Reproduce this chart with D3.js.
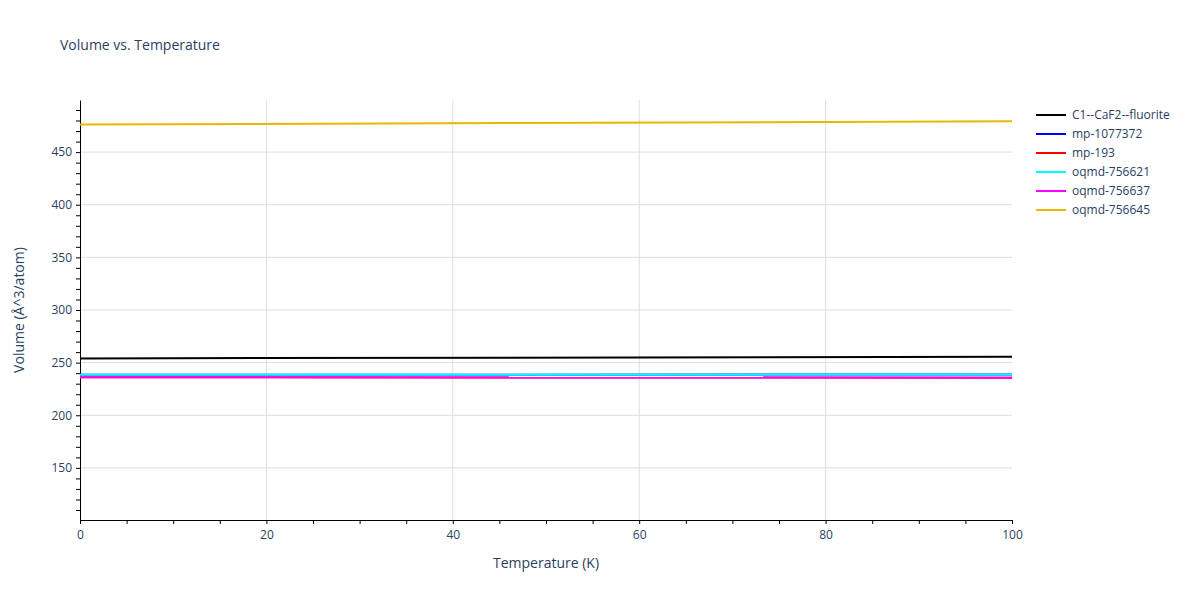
<!DOCTYPE html>
<html><head><meta charset="utf-8">
<script src="https://cdn.jsdelivr.net/npm/d3@7"></script>
<style>body{margin:0;background:#fff;font-family:"Open Sans",sans-serif}</style>
</head><body><div id="chart"></div>
<script>
// values, start and end of each line (K -> volume)
const temps = [0, 100];
const names = ["C1--CaF2--fluorite", "mp-1077372", "mp-193", "oqmd-756621", "oqmd-756637", "oqmd-756645"];
const colors = ["#000000", "#0000ff", "#ff0000", "#00ffff", "#ff00ff", "#e6b800"];
const vols = [
  [254.0, 255.6],
  [238.4, 238.7],
  [236.2, 235.6],
  [238.4, 238.7],
  [236.2, 235.6],
  [476.2, 479.2]
];

const W = 1200, H = 600;
const m = {l: 80, r: 188, t: 100, b: 80};
const svg = d3.select("#chart").append("svg").attr("width", W).attr("height", H);

const x = d3.scaleLinear().domain([0, 100]).range([m.l, W - m.r]);
const y = d3.scaleLinear().domain([100.5, 499.5]).range([H - m.b, m.t]);
const txt = "#2a3f5f";

// grid
svg.append("g").selectAll("line").data([20, 40, 60, 80]).join("line")
  .attr("x1", d => x(d)).attr("x2", d => x(d)).attr("y1", m.t).attr("y2", H - m.b)
  .attr("stroke", "#ddd");
svg.append("g").selectAll("line").data([150, 200, 250, 300, 350, 400, 450]).join("line")
  .attr("x1", m.l).attr("x2", W - m.r).attr("y1", d => y(d)).attr("y2", d => y(d))
  .attr("stroke", "#ddd");

// axes
svg.append("g").attr("transform", `translate(0,${H - m.b})`)
  .call(d3.axisBottom(x).tickValues([0, 20, 40, 60, 80, 100]).tickSize(0).tickPadding(10));
svg.append("g").attr("transform", `translate(0,${H - m.b})`)
  .call(d3.axisBottom(x).tickValues(d3.range(0, 101, 5)).tickSize(4).tickFormat(""))
  .select(".domain").remove();
svg.append("g").attr("transform", `translate(${m.l},0)`)
  .call(d3.axisLeft(y).tickValues([150, 200, 250, 300, 350, 400, 450]).tickSize(0).tickPadding(8));
svg.append("g").attr("transform", `translate(${m.l},0)`)
  .call(d3.axisLeft(y).tickValues(d3.range(110, 500, 10)).tickSize(4).tickFormat(""))
  .select(".domain").remove();
svg.selectAll(".domain").attr("stroke", "#000");
svg.selectAll(".tick line").attr("stroke", "#000");
svg.selectAll(".tick text").attr("fill", txt).style("font-size", "12px").style("font-family", "Open Sans");

// lines
const line = d3.line().x((d, i) => x(temps[i])).y(d => y(d));
svg.append("g").selectAll("path").data(vols).join("path")
  .attr("d", line).attr("fill", "none")
  .attr("stroke", (d, i) => colors[i]).attr("stroke-width", 2);

// titles
svg.append("text").attr("x", 60).attr("y", 50).text("Volume vs. Temperature")
  .attr("fill", txt).style("font-size", "14px");
svg.append("text").attr("x", (m.l + W - m.r) / 2).attr("y", 568).attr("text-anchor", "middle")
  .text("Temperature (K)").attr("fill", txt).style("font-size", "14px");
svg.append("text").attr("transform", `translate(24,${(m.t + H - m.b) / 2}) rotate(-90)`)
  .attr("text-anchor", "middle").text("Volume (Å^3/atom)").attr("fill", txt).style("font-size", "14px");

// legend
const lg = svg.append("g").attr("transform", "translate(1036,115)");
const it = lg.selectAll("g").data(names).join("g").attr("transform", (d, i) => `translate(0,${i * 19})`);
it.append("line").attr("x1", 0).attr("x2", 30).attr("stroke", (d, i) => colors[i]).attr("stroke-width", 2);
it.append("text").attr("x", 36).attr("dy", "0.35em").text(d => d)
  .attr("fill", txt).style("font-size", "12px");
</script></body></html>
